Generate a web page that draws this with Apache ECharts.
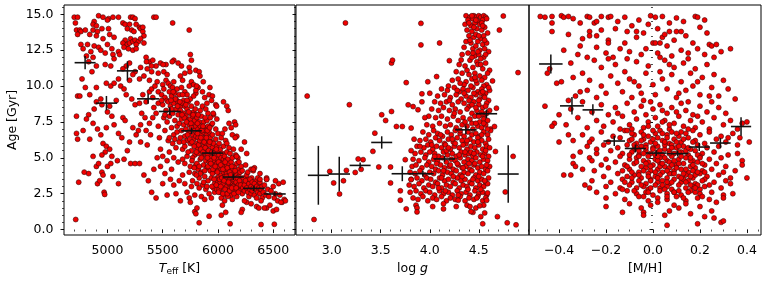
<!DOCTYPE html>
<html><head><meta charset="utf-8">
<script src="https://cdn.jsdelivr.net/npm/echarts@6/dist/echarts.min.js"></script>
<style>html,body{margin:0;padding:0;background:#fff}#c{width:767px;height:285px}</style>
</head><body><div id="c"></div>
<script>
// ---------- tick labels ----------
const ageTicks = [0, 2.5, 5, 7.5, 10, 12.5, 15];
const teffTicks = [5000, 5500, 6000, 6500];
const loggTicks = [3.0, 3.5, 4.0, 4.5];
const mhTicks = [-0.4, -0.2, 0.0, 0.2, 0.4];

// ---------- binned means (crosses) ----------
const teffBinT = [4798, 4991, 5181, 5368, 5564, 5761, 5951, 6138, 6325, 6515];
const teffBinAge = [11.63, 8.81, 11.06, 9.11, 8.23, 6.88, 5.33, 3.66, 2.87, 2.48];
const teffBinTErr = [95, 97, 95, 100, 100, 93, 98, 97, 98, 98];
const teffBinAgeErr = [0.46, 0.5, 0.66, 0.35, 0.27, 0.23, 0.2, 0.2, 0.18, 0.15];

const loggBin = [2.864, 3.077, 3.29, 3.51, 3.72, 3.93, 4.15, 4.368, 4.578, 4.80];
const loggBinAge = [3.78, 3.87, 4.47, 6.07, 3.89, 3.89, 4.92, 6.95, 8.07, 3.87];
const loggBinErr = [0.107, 0.11, 0.107, 0.107, 0.109, 0.11, 0.109, 0.11, 0.109, 0.107];
const loggBinAgeErr = [2.05, 1.2, 0.2, 0.43, 0.52, 0.2, 0.2, 0.3, 0.3, 2.0];

const mhBin = [-0.435, -0.345, -0.256, -0.165, -0.075, 0.014, 0.105, 0.197, 0.287, 0.375];
const mhBinAge = [11.54, 8.62, 8.34, 6.17, 5.65, 5.33, 5.29, 5.75, 6.03, 7.18];
const mhBinErr = [0.05, 0.051, 0.044, 0.046, 0.045, 0.044, 0.046, 0.045, 0.044, 0.043];
const mhBinAgeErr = [0.66, 0.61, 0.4, 0.35, 0.28, 0.2, 0.2, 0.28, 0.35, 0.65];

// ---------- stars: [Teff, Age] ----------
const teffAge = [
[4700,14.8],[4730,14.8],[4920,14.9],[4960,14.8],[5010,14.7],[5050,14.8],[5100,14.8],[5210,14.8],[5230,14.8],[5250,14.7],[5420,14.8],[5440,14.8],[5000,14.6],[4880,14.5],
[4710,14.4],[4720,13.9],[4750,13.9],[4760,13.8],[4730,13.6],[4800,13.9],[4840,13.6],[4870,14.3],[4870,13.9],[4900,14.2],[4910,13.8],[4900,13.5],[4950,14.0],[4960,13.3],[5010,14.0],[5020,13.6],[5060,13.4],[5140,14.4],[5160,14.3],[5180,14.0],[5200,14.3],[5220,13.9],[5240,13.8],[5260,14.3],[5290,14.1],[5300,14.0],[5320,13.8],[5320,14.1],[5330,13.5],[5590,14.4],[5740,13.9],[5210,13.3],[5160,13.2],[5140,13.0],[5180,12.9],[5200,13.0],[5230,13.1],[5250,13.2],[5280,13.1],[5300,13.3],[5260,12.9],[5330,13.0],
[4760,12.9],[4780,12.6],[4820,12.9],[4810,12.1],[4850,12.4],[4870,12.0],[4880,12.8],[4920,12.7],[4940,12.5],[4980,12.3],[5000,12.9],[5040,12.6],[5050,12.2],[5100,12.4],[5110,12.2],[5060,11.9],[5150,12.7],[5190,12.6],[5230,12.5],[5260,12.6],[5350,12.0],[5380,11.7],[5410,11.8],[5440,11.4],[5480,11.6],[5530,11.5],[5600,11.8],[5640,11.6],[5750,12.2],[5760,11.8],[5800,11.1],[5830,11.0],[5740,11.3],
[4830,11.7],[4860,11.0],[4900,11.4],[4980,11.5],[5030,11.4],[5170,11.4],[5200,11.6],[5140,11.2],[5250,11.0],[5300,11.3],[5360,11.2],[5400,11.0],[5460,10.9],[5510,11.0],[5540,10.8],
[4730,9.3],[4750,9.3],[4770,10.5],[4800,9.9],[4840,9.4],[4900,9.9],[4940,9.1],[4990,10.2],[5030,10.0],[5060,10.2],[5100,10.5],[5120,10.0],[5150,9.8],[5200,10.4],[5230,10.8],[5080,9.0],[5020,8.6],[4950,8.7],[4900,8.9],[4880,8.4],[4830,8.0],[4810,7.7],[4720,7.9],[5000,8.2],[5040,7.9],[5170,9.4],[5220,9.1],[5250,8.7],[5290,8.8],[5320,9.4],[5350,8.9],[5380,9.6],[5400,9.8],[5410,9.2],[5430,10.0],[5450,10.3],[5460,9.6],[5380,10.4],[5330,10.7],[5290,10.5],
[4720,6.7],[4730,6.3],[4780,6.9],[4840,6.3],[4870,7.4],[4910,7.0],[4940,6.6],[4960,6.0],[4990,5.8],[5020,5.6],[4980,5.4],[4950,5.2],[4990,7.1],[5060,7.3],[5100,6.7],[5130,6.4],[5140,7.8],[5160,7.6],[5180,5.5],[5200,6.1],[5230,7.1],[5260,6.6],[5280,6.9],[5300,7.3],[5040,5.1],[5090,4.8],[4870,5.1],[4900,4.4],[4920,4.6],[4950,4.0],[4960,3.8],[5000,4.4],[5030,4.6],[5050,3.7],[5100,3.2],[4910,3.2],[4930,3.4],[4970,2.6],[4975,2.45],[4830,3.9],[4790,4.0],[4740,3.3],[4713,0.7],[5150,4.9],[5210,4.6],[5250,4.6],[5290,4.6],[5300,6.1],[5360,5.9],[5330,3.8],[5370,3.4],[5400,2.6],[5440,2.2],[5420,4.2],[5450,5.0],[5390,6.6],[5350,6.9],[5340,7.8],[5380,7.4],[5410,7.8],[5440,8.1],[5420,8.5],[5460,8.8],[5310,8.1],
[5460,7.2],[5470,6.4],[5480,5.6],[5490,9.4],[5500,10.1],[5500,8.7],[5510,9.8],[5510,7.8],[5520,6.9],[5520,9.2],[5530,8.3],[5530,10.4],[5540,7.5],[5540,9.0],[5550,8.9],[5550,6.2],[5550,10.2],[5560,9.6],[5560,7.9],[5570,8.6],[5570,10.0],[5580,9.3],[5580,7.1],[5590,8.1],[5590,9.9],[5600,8.8],[5600,6.6],[5600,10.3],[5610,9.5],[5610,7.6],[5620,8.4],[5620,9.1],[5630,7.2],[5630,9.8],[5640,8.9],[5640,8.0],[5650,9.4],[5650,7.4],[5480,4.4],[5500,5.1],[5520,3.9],[5540,4.8],[5560,5.4],[5580,4.2],[5600,5.0],[5620,5.7],[5640,4.7],[5560,6.4],[5590,6.0],[5610,6.3],[5630,6.8],[5650,6.1],[5500,3.2],[5540,2.4],[5570,3.5],[5600,3.1],[5620,2.5],[5650,3.4],[5490,9.0],[5520,8.0],[5580,8.4],[5660,8.6],[5660,10.7],[5670,9.9],[5680,10.4],[5690,9.0],[5700,10.9],[5700,9.6],[5720,9.4],[5760,10.3],[5780,10.1],[5800,9.5],[5820,9.9],[5860,9.6],[5880,9.2],[5900,8.8],[5920,9.4],[5950,9.3],[5980,8.7],[6050,8.9],[6080,8.6],[6100,7.4],[6120,7.1],[6150,7.5],[6160,7.3],
[5660,8.3],[5670,7.7],[5670,6.9],[5680,8.8],[5680,5.6],[5690,7.3],[5690,8.1],[5700,6.5],[5700,8.6],[5700,4.6],[5710,7.9],[5710,7.0],[5720,8.4],[5720,6.2],[5720,5.1],[5730,7.6],[5730,8.9],[5740,6.8],[5740,7.3],[5740,4.0],[5750,8.1],[5750,6.0],[5750,7.7],[5760,7.1],[5760,5.5],[5760,8.6],[5770,6.6],[5770,7.9],[5770,3.4],[5780,7.4],[5780,6.3],[5780,8.2],[5790,6.9],[5790,5.2],[5790,7.6],[5800,7.2],[5800,6.5],[5800,8.0],[5800,4.5],[5680,3.8],[5700,3.2],[5720,2.6],[5740,2.2],[5760,3.0],[5790,2.4],[5660,2.0],[5680,4.9],[5700,5.8],[5730,5.4],[5750,4.4],[5770,5.0],[5790,3.9],[5810,7.8],[5810,6.0],[5810,8.8],[5660,6.4],[5690,6.1],[5750,9.1],[5720,9.0],[5780,9.3],[5800,9.7],[5680,9.4],[5740,10.0],[5710,8.7],
[5820,7.0],[5820,6.4],[5820,5.3],[5820,4.2],[5830,7.5],[5830,6.8],[5830,5.8],[5830,3.6],[5840,7.2],[5840,6.1],[5840,4.9],[5840,8.3],[5850,6.6],[5850,5.5],[5850,7.9],[5850,4.0],[5860,7.0],[5860,6.3],[5860,5.1],[5860,3.1],[5870,6.8],[5870,5.8],[5870,7.5],[5870,4.5],[5880,6.4],[5880,5.3],[5880,7.1],[5880,3.7],[5890,6.0],[5890,4.8],[5890,6.9],[5890,2.8],[5900,5.6],[5900,6.6],[5900,4.3],[5900,7.6],[5910,5.2],[5910,6.2],[5910,3.4],[5910,8.1],[5920,5.9],[5920,4.7],[5920,6.8],[5920,2.5],[5930,5.4],[5930,6.4],[5930,4.1],[5940,5.0],[5940,6.1],[5940,7.3],[5940,3.6],[5950,5.7],[5950,4.5],[5950,6.6],[5960,5.3],[5960,4.0],[5960,6.0],[5960,8.0],[5970,4.8],[5970,5.5],[5970,3.2],[5980,5.1],[5980,6.3],[5980,4.3],[5980,7.0],[5990,4.6],[5990,5.8],[5990,3.6],[6000,4.9],[6000,5.4],[6000,4.1],[6000,6.7],[5830,2.9],[5850,2.3],[5880,2.1],[5940,2.2],[5970,2.6],[5820,8.0],[5860,8.6],[5890,8.4],[5930,7.8],[5950,7.4],[5990,7.7],[5910,7.2],[5870,3.3],[5900,3.0],[5960,2.9],[5840,3.9],[5810,4.6],[5810,3.2],[5810,5.6],[5830,4.4],[5850,5.0],[5880,4.1],[5910,4.4],[5930,4.8],[5950,3.9],[5990,2.8],[6000,3.3],
[6010,5.2],[6010,4.4],[6010,3.7],[6010,6.0],[6020,4.8],[6020,5.6],[6020,3.3],[6020,2.6],[6030,4.2],[6030,5.0],[6030,3.8],[6030,6.4],[6040,4.6],[6040,3.5],[6040,5.3],[6040,2.9],[6050,4.0],[6050,4.9],[6050,3.2],[6050,5.8],[6060,4.4],[6060,3.7],[6060,5.1],[6060,2.4],[6070,4.1],[6070,3.4],[6070,4.8],[6070,6.2],[6080,3.9],[6080,4.5],[6080,3.0],[6080,5.4],[6090,3.6],[6090,4.2],[6090,4.9],[6090,2.7],[6100,3.8],[6100,4.6],[6100,3.2],[6100,5.7],[6110,3.5],[6110,4.3],[6110,2.9],[6120,3.9],[6120,4.7],[6120,3.3],[6120,2.4],[6130,3.6],[6130,4.1],[6130,5.0],[6140,3.4],[6140,3.9],[6140,2.8],[6150,3.7],[6150,4.4],[6150,3.1],[6160,3.5],[6160,4.0],[6160,2.6],[6170,3.8],[6170,3.2],[6170,4.6],[6180,3.4],[6180,2.9],[6190,3.7],[6190,4.2],[6190,3.0],[6200,3.5],[6200,2.7],[6200,4.0],[6030,2.2],[6060,2.0],[6090,2.3],[6130,2.1],[6170,2.3],[6010,2.8],[6040,6.7],[6080,6.0],[6110,5.3],[6140,5.6],[6180,5.0],[6160,5.2],[6190,4.7],[6210,4.4],[6220,4.1],[6210,3.2],[6220,2.5],
[5815,6.7],[5825,5.9],[5835,6.2],[5845,5.6],[5855,6.9],[5865,5.4],[5875,6.1],[5885,5.7],[5895,6.4],[5905,5.0],[5915,5.5],[5925,6.1],[5935,4.6],[5945,5.4],[5955,4.2],[5965,5.0],[5975,4.4],[5985,5.6],[5995,4.0],[6005,4.7],[6015,3.5],[6025,4.5],[6035,3.6],[6045,4.2],[6055,3.4],[6065,4.7],[6075,3.7],[6085,4.3],[6095,3.3],[6105,4.0],[6115,3.8],[6125,4.4],[6135,3.0],[6145,3.5],[6155,4.1],[6165,3.3],[6175,3.6],[6185,3.1],[6195,3.4],[5905,6.9],[5925,7.1],[5865,7.2],[5885,7.8],[5845,6.4],[5815,7.4],[5795,8.4],[5775,8.0],[5755,7.4],[5735,8.2],[5715,7.5],[5695,7.8],[5675,8.0],[5655,8.9],[5635,8.6],[5615,9.1],[5595,9.6],[5575,9.0],[5725,6.6],[5745,6.3],[5765,6.1],[5785,5.8],[5805,5.4],[5765,4.8],[5785,4.3],[5805,3.8],[5945,3.0],[5965,3.5],[5985,3.1],[6005,2.6],[6025,3.0],[6045,2.5],[6065,2.8],[6085,2.5],[6105,2.7],[6125,2.9],[6145,2.5],[6165,2.9],[6185,2.6],[6205,3.1],[6225,2.9],[6245,3.3],[6265,3.5],[6285,2.6],[6305,3.6],[6325,3.0],[6345,3.4],[6365,3.1],
[6230,3.6],[6240,3.1],[6240,2.7],[6250,3.4],[6260,2.9],[6260,3.8],[6270,2.6],[6280,3.2],[6280,2.3],[6290,3.5],[6290,2.8],[6300,3.0],[6300,2.5],[6310,3.3],[6310,2.7],[6320,2.9],[6320,4.1],[6330,3.2],[6330,2.4],[6340,2.8],[6350,3.0],[6350,2.2],[6360,3.6],[6360,2.6],[6370,2.9],[6380,3.3],[6380,2.5],[6390,2.8],[6400,2.2],[6400,3.0],[6410,2.6],[6420,3.1],[6430,2.4],[6440,3.5],[6450,2.8],[6460,2.3],[6480,2.7],[6500,3.0],[6510,2.2],[6520,2.5],[6540,2.0],[6550,3.2],[6560,2.4],[6580,1.9],[6600,2.1],[6610,2.0],[6590,3.3],[6250,4.5],[6270,4.0],[6300,4.2],[6260,1.9],[6300,1.8],[6350,1.6],[6390,2.0],[6440,1.5],[6470,1.7],[6500,1.3],[6530,1.4],[6570,1.9],[6240,2.0],[6220,1.4],[6210,1.2],[6370,1.5],[6420,1.5],
[5830,0.47],[5920,0.93],[6030,1.0],[6110,0.4],[6390,0.35],[6510,0.37],[5790,1.25],[5810,1.5],[5750,1.9],[6070,1.2],[6040,1.7],[5800,1.1],[6170,6.5],[6130,6.6],[6240,6.1],[6210,5.6],[6260,5.3],[6330,4.3],[6380,3.9],[6440,3.6],[6520,3.4],[6380,3.5],
[5353,11.7],[5399,11.4],[5504,11.5],[5586,11.7],[5670,11.4],[5746,11.0],[5837,10.7],[5867,10.3],[5807,10.0],[5927,9.9],[5942,9.0],[5988,8.6],[5957,8.1],[6093,8.3],[6063,7.0],[6156,6.4],[6168,5.1],[6319,4.2],[6440,3.5]
];

// ---------- stars: [log g, Age] ----------
const loggAge = [
[4.37,14.9],[4.41,14.8],[4.45,14.9],[4.47,14.8],[4.50,14.9],[4.52,14.8],[4.55,14.9],[4.57,14.8],[4.39,14.6],[4.44,14.7],[4.49,14.5],[4.54,14.6],[4.58,14.7],[4.36,14.3],[4.42,14.2],[4.46,14.4],[4.51,14.3],[4.56,14.1],[4.38,13.9],[4.43,13.8],[4.48,14.0],[4.53,13.9],[4.59,13.7],[4.40,13.5],[4.45,13.4],[4.47,13.6],[4.52,13.3],[4.55,13.5],[4.37,13.1],[4.42,13.0],[4.49,13.1],[4.54,12.9],[4.58,13.0],[4.35,12.7],[4.44,12.6],[4.47,12.8],[4.51,12.5],[4.56,12.6],[4.60,12.4],[4.33,12.2],[4.39,12.3],[4.46,12.1],[4.50,12.2],[4.55,12.0],[4.41,11.8],[4.48,11.7],[4.52,11.9],[4.57,11.6],[4.30,11.5],[4.36,11.4],[4.44,11.3],[4.49,11.5],[4.54,11.2],[4.61,11.1],[4.27,11.0],[4.33,10.9],[4.40,10.8],[4.46,10.9],[4.51,10.7],[4.56,10.6],[4.59,10.9],[4.23,10.4],[4.29,10.5],[4.37,10.3],[4.43,10.5],[4.48,10.2],[4.53,10.4],[4.58,10.1],[4.19,10.0],[4.35,10.1],[4.45,14.1],[4.40,14.4],[4.53,14.4],[4.56,13.2],[4.49,12.4],[4.43,12.0],[4.38,11.1],[4.47,10.4],[4.55,10.0],[4.31,10.2],
[4.12,9.8],[4.18,9.7],[4.25,9.9],[4.30,9.6],[4.34,9.8],[4.39,9.7],[4.44,9.9],[4.49,9.6],[4.53,9.8],[4.57,9.5],[4.61,9.7],[4.08,9.3],[4.15,9.4],[4.21,9.2],[4.27,9.4],[4.32,9.1],[4.37,9.3],[4.42,9.2],[4.47,9.4],[4.51,9.1],[4.55,9.3],[4.60,9.0],[4.05,8.9],[4.11,8.8],[4.17,8.9],[4.23,8.7],[4.29,8.9],[4.35,8.8],[4.40,8.6],[4.45,8.9],[4.50,8.7],[4.54,8.5],[4.58,8.8],[4.02,8.4],[4.09,8.3],[4.14,8.5],[4.20,8.3],[4.26,8.4],[4.31,8.2],[4.38,8.4],[4.43,8.1],[4.48,8.3],[4.53,8.2],[4.56,8.0],[4.61,8.3],[3.99,7.9],[4.06,7.8],[4.12,7.9],[4.18,7.7],[4.24,7.9],[4.29,7.6],[4.34,7.8],[4.41,7.7],[4.46,7.9],[4.51,7.5],[4.55,7.7],[4.59,7.6],[3.97,7.3],[4.03,7.2],[4.10,7.4],[4.16,7.2],[4.21,7.3],[4.27,7.1],[4.33,7.3],[4.38,7.2],[4.44,7.0],[4.49,7.2],[4.53,7.1],[4.57,7.3],[4.62,7.0],[4.45,9.5],[4.52,9.5],[4.56,9.2],[4.35,9.5],[4.40,9.0],[4.47,8.5],[4.57,8.6],[4.52,8.0],[4.36,7.5],[4.43,7.4],[4.50,7.9],[4.58,8.1],[4.25,8.1],[4.20,9.0],[4.28,9.7],[4.42,10.0],[4.60,9.9],
[3.93,6.8],[3.99,6.6],[4.04,6.9],[4.08,6.7],[4.13,6.5],[4.18,6.8],[4.22,6.6],[4.26,6.9],[4.31,6.7],[4.35,6.5],[4.39,6.8],[4.43,6.6],[4.47,6.7],[4.51,6.5],[4.55,6.8],[4.59,6.6],[4.62,6.9],
[3.90,6.2],[3.96,6.3],[4.01,6.1],[4.06,6.4],[4.10,6.2],[4.15,6.0],[4.19,6.3],[4.24,6.1],[4.28,6.4],[4.33,6.2],[4.37,6.0],[4.41,6.3],[4.45,6.1],[4.49,6.4],[4.53,6.2],[4.57,6.0],[4.60,6.3],
[3.87,5.8],[3.94,5.7],[3.98,5.9],[4.03,5.6],[4.07,5.8],[4.12,5.7],[4.16,5.9],[4.21,5.6],[4.25,5.8],[4.30,5.7],[4.34,5.9],[4.38,5.6],[4.42,5.8],[4.46,5.7],[4.50,5.9],[4.54,5.6],[4.58,5.8],[4.61,5.7],
[3.85,5.3],[3.91,5.4],[3.96,5.2],[4.00,5.4],[4.05,5.3],[4.09,5.1],[4.14,5.4],[4.18,5.2],[4.23,5.3],[4.27,5.1],[4.32,5.4],[4.36,5.2],[4.40,5.3],[4.44,5.1],[4.48,5.4],[4.52,5.2],[4.56,5.3],[4.60,5.1],
[3.83,4.9],[3.89,4.8],[3.95,5.0],[3.99,4.7],[4.04,4.9],[4.08,4.8],[4.13,5.0],[4.17,4.7],[4.22,4.9],[4.26,4.8],[4.31,5.0],[4.35,4.7],[4.39,4.9],[4.43,4.8],[4.47,5.0],[4.51,4.7],[4.55,4.9],[4.59,4.8],
[3.82,4.4],[3.86,4.5],[3.92,4.3],[3.97,4.5],[4.02,4.4],[4.06,4.2],[4.11,4.5],[4.15,4.3],[4.20,4.4],[4.24,4.2],[4.29,4.5],[4.33,4.3],[4.37,4.4],[4.41,4.2],[4.45,4.5],[4.49,4.3],[4.53,4.4],[4.57,4.2],[4.61,4.4],
[3.80,4.0],[3.85,3.9],[3.90,4.1],[3.95,3.8],[4.00,4.0],[4.04,3.9],[4.09,4.1],[4.13,3.8],[4.18,4.0],[4.22,3.9],[4.27,4.1],[4.31,3.8],[4.35,4.0],[4.39,3.9],[4.43,4.1],[4.47,3.8],[4.51,4.0],[4.55,3.9],[4.59,4.1],
[3.81,3.5],[3.87,3.6],[3.92,3.4],[3.97,3.6],[4.01,3.5],[4.06,3.3],[4.10,3.6],[4.15,3.4],[4.19,3.5],[4.24,3.3],[4.28,3.6],[4.32,3.4],[4.36,3.5],[4.41,3.3],[4.45,3.6],[4.49,3.4],[4.53,3.5],[4.57,3.3],[4.60,3.6],
[3.79,3.1],[3.84,3.0],[3.89,3.2],[3.94,2.9],[3.99,3.1],[4.03,3.0],[4.08,3.2],[4.12,2.9],[4.17,3.1],[4.21,3.0],[4.26,3.2],[4.30,2.9],[4.34,3.1],[4.38,3.0],[4.43,3.2],[4.47,2.9],[4.51,3.1],[4.55,3.0],[4.59,3.2],
[3.80,2.6],[3.86,2.7],[3.91,2.5],[3.96,2.7],[4.00,2.6],[4.05,2.4],[4.10,2.7],[4.14,2.5],[4.19,2.6],[4.23,2.4],[4.28,2.7],[4.32,2.5],[4.37,2.6],[4.41,2.4],[4.46,2.7],[4.50,2.5],[4.54,2.6],[4.58,2.4],
[3.83,2.2],[3.88,2.1],[3.93,2.3],[3.98,2.0],[4.03,2.2],[4.07,2.1],[4.12,2.3],[4.17,2.0],[4.21,2.2],[4.26,2.1],[4.31,2.3],[4.36,2.0],[4.40,2.2],[4.45,2.1],[4.49,2.3],[4.54,2.0],[4.57,2.2],
[3.86,1.7],[4.03,1.6],[4.14,1.8],[4.27,1.6],[4.38,1.7],[4.47,1.5],[4.55,1.7],[4.44,1.2],[4.52,0.9],
[4.02,5.9],[4.11,6.6],[4.17,5.5],[4.21,4.5],[4.26,6.0],[4.30,5.2],[4.34,4.3],[4.38,6.2],[4.42,5.4],[4.46,4.6],[4.50,3.7],[4.54,5.1],[4.58,4.5],[4.07,4.6],[4.12,3.6],[4.16,2.7],[4.24,3.7],[4.29,2.4],[4.33,3.7],[4.39,2.8],[4.44,3.5],[4.48,2.2],[4.52,2.8],[4.56,3.4],[4.09,2.9],[4.14,4.1],[4.19,5.7],[4.28,4.6],[4.36,5.4],[4.40,4.6],[4.45,5.3],[4.49,6.1],[4.53,6.6],[4.57,5.5],[4.05,5.1],[4.23,6.3],[4.31,6.9],[4.47,7.4],[4.55,7.4],[4.59,7.0],[4.43,8.7],[4.50,9.0],[4.54,9.6],[4.46,10.6],[4.52,11.5],[4.44,12.3],[4.50,13.5],[4.41,13.2],[4.57,12.2],[4.47,14.6],[4.43,14.9],[4.54,14.2],
[3.88,8.35],[3.81,7.07],[3.84,6.3],[3.90,5.8],[3.81,5.5],[3.95,7.8],[3.92,8.9],[4.00,9.5],[3.98,10.3],
[2.75,9.3],[2.82,0.7],[2.98,4.05],[3.02,3.25],[3.08,2.48],[3.12,3.4],[3.15,4.12],[3.14,14.4],[3.18,8.7],[3.24,3.98],[3.27,4.92],[3.30,4.2],[3.32,4.87],[3.42,5.45],[3.44,6.72],[3.51,8.0],[3.55,7.6],[3.48,4.36],[3.60,4.36],[3.60,3.25],[3.61,11.6],[3.62,11.8],[3.61,8.23],[3.66,7.18],[3.70,2.7],[3.70,2.05],[3.72,7.18],[3.76,1.44],[3.76,10.24],[3.78,8.69],[3.83,8.57],[3.91,14.37],[3.91,12.87],[3.92,9.46],[3.75,4.87],[3.81,3.48],[4.10,13.0],[4.07,10.66],[4.20,11.77],[4.32,11.82],[4.71,13.9],[4.75,14.88],[4.90,10.94],[4.85,5.1],[4.77,2.62],[4.69,0.9],[4.79,0.47],[4.88,0.33],[4.66,7.18],[4.68,8.46],[4.64,10.36],[4.67,5.44],[4.54,0.4],[4.51,1.65],[4.42,1.25],[4.41,1.6],[4.14,1.44],[3.87,1.51],[3.87,1.23],[4.29,2.04],[4.56,1.16],[4.58,2.04],[4.59,2.55]
];

// ---------- stars: [[M/H], Age] ----------
const mhAge = [
[-0.48,14.85],[-0.46,14.8],[-0.43,14.85],[-0.39,14.9],[-0.38,14.8],[-0.36,14.85],[-0.34,14.7],[-0.28,14.85],[-0.27,14.8],[-0.22,14.85],[-0.19,14.8],[-0.18,14.85],[-0.12,14.8],[-0.01,14.9],[0.01,14.8],[0.04,14.85],[0.10,14.75],[0.18,14.85],[0.19,14.8],[-0.43,14.4],[-0.31,14.4],[-0.25,14.4],[-0.24,14.5],[-0.02,14.3],[0.07,14.4],[-0.06,14.6],[0.13,14.5],[0.22,14.6],[-0.15,14.5],
[-0.43,13.8],[-0.27,13.8],[-0.27,13.5],[-0.24,13.5],[-0.19,13.2],[-0.19,13.0],[-0.11,13.8],[-0.07,13.8],[-0.07,13.4],[-0.12,13.0],[-0.04,13.7],[0.00,13.0],[0.01,13.0],[0.03,13.0],[0.04,13.4],[0.07,13.8],[0.10,13.8],[0.12,13.8],[0.14,13.5],[0.17,13.0],[0.23,13.7],[0.24,12.9],[0.25,12.8],[0.27,12.9],[-0.36,13.6],[-0.30,13.3],[-0.16,14.0],[0.02,14.0],[0.09,13.2],[0.20,14.1],[-0.22,13.9],[-0.09,14.2],[0.05,13.6],
[0.33,12.6],[-0.31,12.8],[-0.32,12.2],[-0.28,12.0],[-0.14,12.6],[-0.10,12.4],[-0.05,12.2],[-0.03,12.6],[0.02,12.3],[0.06,12.8],[0.08,12.1],[0.12,12.5],[0.15,12.3],[0.19,12.6],[0.22,12.2],[0.29,12.4],[-0.20,12.3],[-0.24,12.7],[-0.17,12.0],[-0.38,12.5],[0.03,12.0],[0.26,12.0],
[-0.45,10.9],[-0.44,11.2],[-0.41,10.2],[-0.39,10.3],[-0.35,11.6],[-0.33,9.3],[-0.36,9.0],[-0.30,10.9],[-0.27,10.4],[-0.25,11.8],[-0.22,11.3],[-0.22,10.0],[-0.20,9.5],[-0.18,10.7],[-0.16,11.5],[-0.15,10.2],[-0.13,9.6],[-0.12,11.0],[-0.10,10.5],[-0.09,9.2],[-0.07,11.7],[-0.06,10.0],[-0.05,9.5],[-0.03,10.9],[-0.02,11.4],[0.00,10.1],[0.01,9.4],[0.03,11.0],[0.04,10.5],[0.05,11.8],[0.06,9.8],[0.08,10.8],[0.09,11.3],[0.10,9.2],[0.12,10.3],[0.13,11.6],[0.14,9.7],[0.16,10.9],[0.17,10.0],[0.18,11.2],[0.20,9.4],[0.21,10.6],[0.23,11.5],[0.25,9.9],[0.26,10.8],[0.28,9.3],[0.30,10.4],[0.32,9.8],[0.35,9.1],[-0.28,9.7],[-0.31,9.6],[-0.24,9.2],[-0.08,10.3],[0.11,9.5],[0.19,10.3],[-0.19,11.9],[-0.11,11.9],[0.07,11.5],[-0.34,10.6],[0.15,11.9],[-0.04,9.0],[0.24,9.3],
[-0.46,8.6],[-0.42,7.4],[-0.40,8.0],[-0.37,7.3],[-0.35,8.4],[-0.32,7.8],[-0.30,8.9],[-0.28,7.1],[-0.26,8.2],[-0.24,7.6],[-0.22,8.7],[-0.21,7.2],[-0.19,8.0],[-0.17,7.5],[-0.16,8.5],[-0.14,7.0],[-0.13,7.9],[-0.11,8.8],[-0.10,7.3],[-0.08,8.2],[-0.07,7.7],[-0.05,8.6],[-0.04,7.1],[-0.03,8.0],[-0.02,7.5],[0.00,8.4],[0.01,7.8],[0.02,7.2],[0.03,8.7],[0.05,7.6],[0.06,8.1],[0.07,7.0],[0.08,8.5],[0.09,7.4],[0.11,7.9],[0.12,8.8],[0.13,7.2],[0.14,8.3],[0.16,7.6],[0.17,8.0],[0.18,7.1],[0.20,8.6],[0.21,7.5],[0.23,8.2],[0.24,7.0],[0.26,7.8],[0.28,8.5],[0.30,7.3],[0.31,8.1],[0.33,7.6],[0.36,7.0],[0.38,7.4],[0.40,7.5],[-0.01,8.9],[0.04,8.3],[0.10,8.2],[0.15,8.9],[-0.09,7.0],[-0.15,8.1],[0.19,7.9],[0.25,8.9],
[-0.30,6.6],[-0.22,6.8],[-0.17,6.5],[-0.12,6.9],[-0.08,6.6],[-0.05,6.8],[-0.02,6.5],[0.01,6.7],[0.03,6.9],[0.06,6.6],[0.08,6.8],[0.11,6.5],[0.14,6.7],[0.17,6.9],[0.20,6.6],[0.24,6.8],[0.29,6.5],[0.34,6.7],
[-0.34,6.2],[-0.26,6.3],[-0.19,6.1],[-0.14,6.4],[-0.10,6.2],[-0.07,6.0],[-0.04,6.3],[-0.01,6.1],[0.02,6.4],[0.04,6.2],[0.07,6.0],[0.09,6.3],[0.12,6.1],[0.15,6.4],[0.18,6.2],[0.22,6.0],[0.27,6.3],[0.31,6.1],
[-0.28,5.8],[-0.21,5.9],[-0.15,5.7],[-0.11,5.9],[-0.08,5.6],[-0.05,5.8],[-0.03,5.9],[0.00,5.7],[0.02,5.8],[0.05,5.6],[0.08,5.9],[0.10,5.7],[0.13,5.8],[0.16,5.6],[0.19,5.9],[0.23,5.7],[0.28,5.8],[0.36,5.9],
[-0.31,5.4],[-0.24,5.3],[-0.18,5.5],[-0.13,5.3],[-0.09,5.4],[-0.06,5.2],[-0.03,5.5],[-0.01,5.3],[0.02,5.4],[0.04,5.2],[0.07,5.5],[0.09,5.3],[0.12,5.4],[0.15,5.2],[0.18,5.5],[0.21,5.3],[0.26,5.4],[0.32,5.2],
[-0.27,5.0],[-0.20,4.9],[-0.14,5.1],[-0.10,4.9],[-0.07,5.0],[-0.04,4.8],[-0.02,5.1],[0.01,4.9],[0.03,5.0],[0.06,4.8],[0.08,5.1],[0.11,4.9],[0.14,5.0],[0.17,4.8],[0.20,5.1],[0.24,4.9],[0.29,5.0],[0.38,4.8],
[-0.34,4.6],[-0.22,4.5],[-0.16,4.7],[-0.12,4.5],[-0.08,4.6],[-0.05,4.4],[-0.02,4.7],[0.00,4.5],[0.03,4.6],[0.05,4.4],[0.07,4.7],[0.10,4.5],[0.13,4.6],[0.16,4.4],[0.19,4.7],[0.22,4.5],[0.27,4.6],[0.31,4.4],
[-0.30,4.2],[-0.25,4.1],[-0.19,4.3],[-0.13,4.1],[-0.10,4.2],[-0.06,4.0],[-0.03,4.3],[-0.01,4.1],[0.02,4.2],[0.04,4.0],[0.07,4.3],[0.09,4.1],[0.12,4.2],[0.15,4.0],[0.18,4.3],[0.21,4.1],[0.25,4.2],[0.30,4.0],
[-0.35,3.8],[-0.21,3.7],[-0.15,3.9],[-0.11,3.7],[-0.08,3.8],[-0.05,3.6],[-0.02,3.9],[0.01,3.7],[0.03,3.8],[0.06,3.6],[0.08,3.9],[0.11,3.7],[0.14,3.8],[0.17,3.6],[0.20,3.9],[0.23,3.7],[0.28,3.8],[0.33,3.6],
[-0.26,3.4],[-0.18,3.3],[-0.13,3.5],[-0.09,3.3],[-0.06,3.4],[-0.03,3.2],[-0.01,3.5],[0.02,3.3],[0.04,3.4],[0.07,3.2],[0.09,3.5],[0.12,3.3],[0.15,3.4],[0.18,3.2],[0.22,3.5],[0.26,3.3],[0.31,3.4],
[-0.20,3.0],[-0.14,2.9],[-0.10,3.1],[-0.07,2.9],[-0.04,3.0],[-0.02,2.8],[0.01,3.1],[0.03,2.9],[0.06,3.0],[0.08,2.8],[0.11,3.1],[0.14,2.9],[0.17,3.0],[0.20,2.8],[0.24,3.1],[0.29,2.9],
[-0.24,2.6],[-0.16,2.5],[-0.11,2.7],[-0.07,2.5],[-0.03,2.6],[0.00,2.4],[0.03,2.7],[0.06,2.5],[0.09,2.6],[0.12,2.4],[0.16,2.7],[0.20,2.5],[0.25,2.6],[0.30,2.4],
[-0.20,2.2],[-0.12,2.1],[-0.06,2.3],[-0.02,2.0],[0.02,2.2],[0.06,2.1],[0.10,2.3],[0.14,2.0],[0.19,2.2],[0.24,2.1],
[-0.20,1.6],[-0.13,1.2],[-0.05,1.5],[-0.04,1.2],[-0.01,1.7],[0.02,1.9],[0.07,1.3],[0.09,1.7],[0.11,1.5],[0.14,1.8],[0.16,1.1],[0.20,1.6],[0.25,1.3],[0.22,0.9],[0.19,0.4],[0.26,0.8],[0.29,0.5],[0.30,0.6],[0.06,0.3],[-0.04,1.0],[-0.10,1.8],[0.05,1.0],
[-0.38,3.8],[-0.34,5.1],[-0.33,4.4],[-0.40,6.1],[-0.36,6.6],[-0.43,7.2],[-0.27,6.1],[-0.24,5.6],[-0.26,4.8],[-0.29,3.1],[-0.27,2.9],[0.33,3.2],[0.35,4.1],[0.36,5.3],[0.38,4.5],[0.41,6.1],[0.37,6.4],[0.32,6.4],[0.40,3.6],[0.34,2.5],[0.30,2.2],[0.27,1.9],
[-0.06,5.1],[0.00,5.6],[0.05,5.0],[0.10,4.3],[0.13,3.5],[0.16,3.1],[-0.09,3.6],[-0.04,4.1],[0.02,4.8],[0.07,3.9],[0.11,5.8],[0.17,4.5],[-0.11,4.4],[0.04,3.1],[0.09,2.6],[-0.01,3.4],[0.14,4.2],[0.19,5.2],[-0.07,5.7],[0.01,6.0],[0.06,6.4],[0.12,6.8],[-0.02,2.6],[0.18,2.6],[-0.13,2.8],[0.21,3.4],
[-0.11,6.9],[-0.09,6.3],[-0.06,5.5],[-0.04,6.6],[-0.03,4.6],[0.00,6.9],[0.01,5.2],[0.03,4.4],[0.05,5.9],[0.06,3.3],[0.08,4.5],[0.10,6.1],[0.12,3.6],[0.14,5.5],[0.16,4.8],[0.18,3.8],[0.20,5.0],[0.22,4.0],[-0.08,2.7],[-0.05,3.1],[-0.01,2.9],[0.02,3.6],[0.05,2.8],[0.08,3.3],[0.11,2.7],[0.13,3.9],[0.15,2.6],[0.19,3.1],[-0.10,5.2],[-0.07,4.7],[-0.04,5.3],[-0.01,4.4],[0.02,5.1],[0.04,6.7],[0.07,5.3],[0.09,4.8],[0.12,5.1],[0.15,5.7],[0.17,4.1],[0.21,4.6],[-0.12,3.3],[-0.09,4.0],[-0.06,3.8],[-0.02,3.7],[0.01,4.0],[0.04,4.6],[0.06,4.1],[0.09,3.9],[0.11,4.6],[0.14,3.3],[0.16,3.7],[0.19,4.0],[0.22,3.0],[-0.05,6.2],[0.00,6.3],[0.05,6.1],[0.10,6.7],[0.13,6.3],[0.17,6.1],[-0.08,5.9],[0.03,5.5],[0.08,5.7],[0.11,5.4],[0.16,5.0],[-0.03,5.7],[0.06,2.3],[0.13,2.2],[-0.04,2.3],[0.18,2.9],[0.21,2.3],[-0.09,6.7],[0.07,7.3],[-0.02,7.2],[0.15,7.0],[0.04,7.5]
];

// ---------- chart ----------
const FONT = 'DejaVu Sans';
const FS = 12.5;
const AGE_MIN = -0.38, AGE_MAX = 15.65;
function minorList(a, b, step) { const o = []; for (let v = a; v <= b + 1e-9; v += step) o.push(+v.toFixed(4)); return o; }
const ageMinor = minorList(0, 15.5, 0.5);
const teffMinor = minorList(4700, 6600, 100);
const loggMinor = minorList(2.7, 5.0, 0.1);
const mhMinor = minorList(-0.5, 0.45, 0.05);

const grids = [
  {left: 64, top: 5, width: 231, height: 230},
  {left: 296, top: 5, width: 233, height: 230},
  {left: 529, top: 5, width: 232, height: 230}
].map(g => Object.assign({show: true, borderColor: '#000', borderWidth: 1, backgroundColor: 'transparent', containLabel: false, outerBoundsMode: 'none'}, g));

const labelStyle = {fontFamily: FONT, fontSize: FS, color: '#000'};
function xAxes(gi, min, max, majors, minors, fmt, name, rich) {
  return [
    {type: 'value', gridIndex: gi, min, max, position: 'bottom',
     axisLine: {show: false}, splitLine: {show: false},
     axisTick: {show: true, inside: false, length: 3.5, customValues: majors, lineStyle: {color: '#000', width: 0.9}},
     axisLabel: Object.assign({show: true, customValues: majors, margin: 9, formatter: fmt}, labelStyle),
     name, nameLocation: 'middle', nameGap: 27,
     nameTextStyle: Object.assign({lineHeight: 14, rich}, labelStyle)},
    {type: 'value', gridIndex: gi, min, max, position: 'bottom',
     axisLine: {show: false}, splitLine: {show: false},
     axisTick: {show: true, inside: false, length: 2, customValues: minors, lineStyle: {color: '#000', width: 0.7}},
     axisLabel: {show: false}}
  ];
}
function yAxes(gi, showLabel) {
  const a = {type: 'value', gridIndex: gi, min: AGE_MIN, max: AGE_MAX, position: 'left',
     axisLine: {show: false}, splitLine: {show: false},
     axisTick: {show: true, inside: false, length: 3.5, customValues: ageTicks, lineStyle: {color: '#000', width: 0.9}},
     axisLabel: Object.assign({show: showLabel, customValues: ageTicks, margin: 10.5, formatter: v => v.toFixed(1)}, labelStyle)};
  if (showLabel) {
    a.name = 'Age [Gyr]'; a.nameLocation = 'middle'; a.nameGap = 45; a.nameRotate = 90;
    a.nameTextStyle = Object.assign({}, labelStyle);
  }
  const b = {type: 'value', gridIndex: gi, min: AGE_MIN, max: AGE_MAX, position: 'left',
     axisLine: {show: false}, splitLine: {show: false},
     axisTick: {show: true, inside: false, length: 2, customValues: ageMinor, lineStyle: {color: '#000', width: 0.7}},
     axisLabel: {show: false}};
  return [a, b];
}
const italic = {fontFamily: FONT, fontSize: FS, fontStyle: 'italic', color: '#000', lineHeight: 14};
const upright = {fontFamily: FONT, fontSize: FS, color: '#000', lineHeight: 14};
const sub = {fontFamily: FONT, fontSize: 9, color: '#000', lineHeight: 9, verticalAlign: 'bottom'};

const xAxis = [].concat(
  xAxes(0, 4607, 6697, teffTicks, teffMinor, v => String(Math.round(v)), '{i|T}{s|eff}{n| [K]}', {i: italic, s: sub, n: upright}),
  xAxes(1, 2.636, 5.012, loggTicks, loggMinor, v => v.toFixed(1), '{n|log }{i|g}', {i: italic, n: upright}),
  xAxes(2, -0.528, 0.46, mhTicks, mhMinor, v => (v < -1e-9 ? '\u2212' : '') + Math.abs(v).toFixed(1), '[M/H]', {})
);
const yAxis = [].concat(yAxes(0, true), yAxes(1, false), yAxes(2, false));

function zip4(a, b, c, d) { return a.map((v, i) => [v, b[i], c[i], d[i]]); }
function crossSeries(idx, data) {
  return {type: 'custom', xAxisIndex: 2 * idx, yAxisIndex: 2 * idx, z: 10, silent: true, data,
    renderItem(params, api) {
      const x = api.value(0), y = api.value(1), ex = api.value(2), ey = api.value(3);
      const l = api.coord([x - ex, y]), r = api.coord([x + ex, y]);
      const t = api.coord([x, y + ey]), b = api.coord([x, y - ey]);
      return {type: 'group', children: [
        {type: 'line', shape: {x1: l[0], y1: l[1], x2: r[0], y2: r[1]}, style: {stroke: '#111', lineWidth: 1.6}},
        {type: 'line', shape: {x1: t[0], y1: t[1], x2: b[0], y2: b[1]}, style: {stroke: '#111', lineWidth: 1.5}}
      ]};
    }};
}
function scatterSeries(idx, data) {
  return {type: 'scatter', xAxisIndex: 2 * idx, yAxisIndex: 2 * idx, data, symbol: 'circle', symbolSize: 5,
    silent: true, itemStyle: {color: '#f20000', borderColor: '#3a0a0a', borderWidth: 0.6, opacity: 1}};
}

const chart = echarts.init(document.getElementById('c'), null, {renderer: 'canvas'});
chart.setOption({
  animation: false,
  backgroundColor: '#fff',
  grid: grids,
  xAxis, yAxis,
  series: [
    scatterSeries(0, teffAge), scatterSeries(1, loggAge), scatterSeries(2, mhAge),
    crossSeries(0, zip4(teffBinT, teffBinAge, teffBinTErr, teffBinAgeErr)),
    crossSeries(1, zip4(loggBin, loggBinAge, loggBinErr, loggBinAgeErr)),
    crossSeries(2, zip4(mhBin, mhBinAge, mhBinErr, mhBinAgeErr))
  ]
});
</script>
</body></html>
